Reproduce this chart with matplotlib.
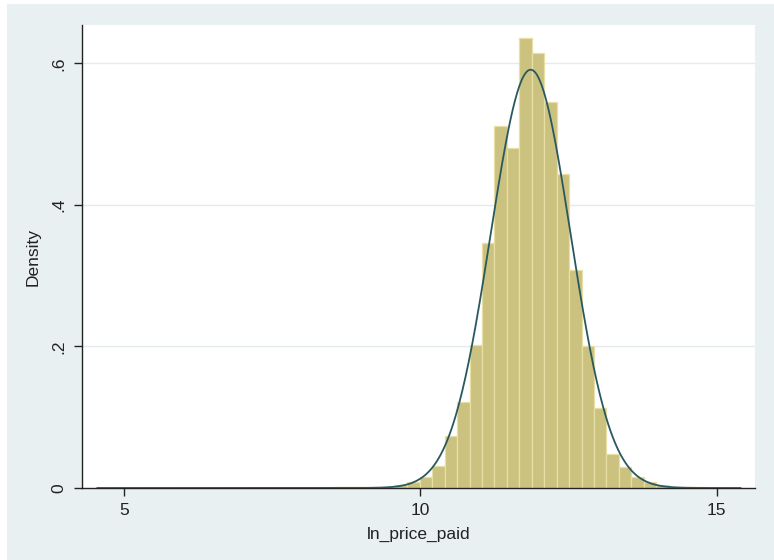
import matplotlib.pyplot as plt
import numpy as np
from matplotlib.patches import Rectangle

# histogram of ln_price_paid (density scale), bins of equal width
bin_start = 4.53
bin_width = 0.21
density = [0.0005, 0.0003, 0.0002, 0.0002, 0.0002, 0.0002, 0.0002, 0.0002,
           0.0003, 0.0003, 0.0003, 0.0003, 0.0003, 0.0004, 0.0004, 0.0004,
           0.0005, 0.0005, 0.0006, 0.0007, 0.0008, 0.001, 0.0015, 0.002,
           0.004, 0.008, 0.015, 0.031, 0.073, 0.122, 0.202, 0.346,
           0.511, 0.480, 0.636, 0.614, 0.545, 0.444, 0.308, 0.200,
           0.113, 0.048, 0.029, 0.015, 0.008, 0.004, 0.002, 0.001,
           0.0008, 0.0005, 0.0004, 0.0003]

# normal overlay (mean / sd of the variable, drawn over the data range)
norm_mean = 11.86
norm_sd = 0.675
data_min = 4.55
data_max = 15.40

x_ticks = [5, 10, 15]
y_ticks = [0, 0.2, 0.4, 0.6]
y_ticklabels = ["0", ".2", ".4", ".6"]

plt.rcParams["font.family"] = ["Liberation Sans", "DejaVu Sans"]

fig = plt.figure(figsize=(7.74, 5.6), dpi=100)
fig.patch.set_facecolor("white")
# graph region (thin white strip left and top, as in the screenshot)
fig.patches.append(Rectangle((7 / 774, 0), 1, 1 - 4 / 560, transform=fig.transFigure,
                             facecolor="#e9f0f2", edgecolor="none", zorder=-5))

ax = fig.add_axes([0.106, 0.1286, 0.869, 0.8265])
ax.set_zorder(5)
ax.set_facecolor("white")

edges = bin_start + bin_width * np.arange(len(density))
ax.bar(edges, density, width=bin_width, align="edge",
       color="#ccc27f", edgecolor="#e8dfa4", linewidth=0.9, zorder=2)

xs = np.linspace(data_min, data_max, 600)
pdf = np.exp(-0.5 * ((xs - norm_mean) / norm_sd) ** 2) / (norm_sd * np.sqrt(2 * np.pi))
ax.plot(xs, pdf, color="#2a5860", lw=1.3, zorder=3)

ax.set_xlim(4.29, 15.64)
ax.set_ylim(0, 0.654)

for y in y_ticks[1:]:
    ax.axhline(y, color="#e4ebee", lw=1.0, zorder=1)

ax.set_xticks(x_ticks)
ax.set_yticks(y_ticks)
ax.set_yticklabels(y_ticklabels, rotation=90, va="center")
ax.tick_params(axis="both", labelsize=12.5, color="#222222", length=6,
               width=1.0, direction="out", pad=5, labelcolor="#222222")

for side in ["top", "right"]:
    ax.spines[side].set_visible(False)
for side in ["left", "bottom"]:
    ax.spines[side].set_color("#222222")
    ax.spines[side].set_linewidth(1.0)

ax.set_xlabel("ln_price_paid", fontsize=12.5, color="#222222", labelpad=6)
ax.set_ylabel("Density", fontsize=12.5, color="#222222", labelpad=8)

fig.savefig("out.png", dpi=100, facecolor=fig.get_facecolor())
